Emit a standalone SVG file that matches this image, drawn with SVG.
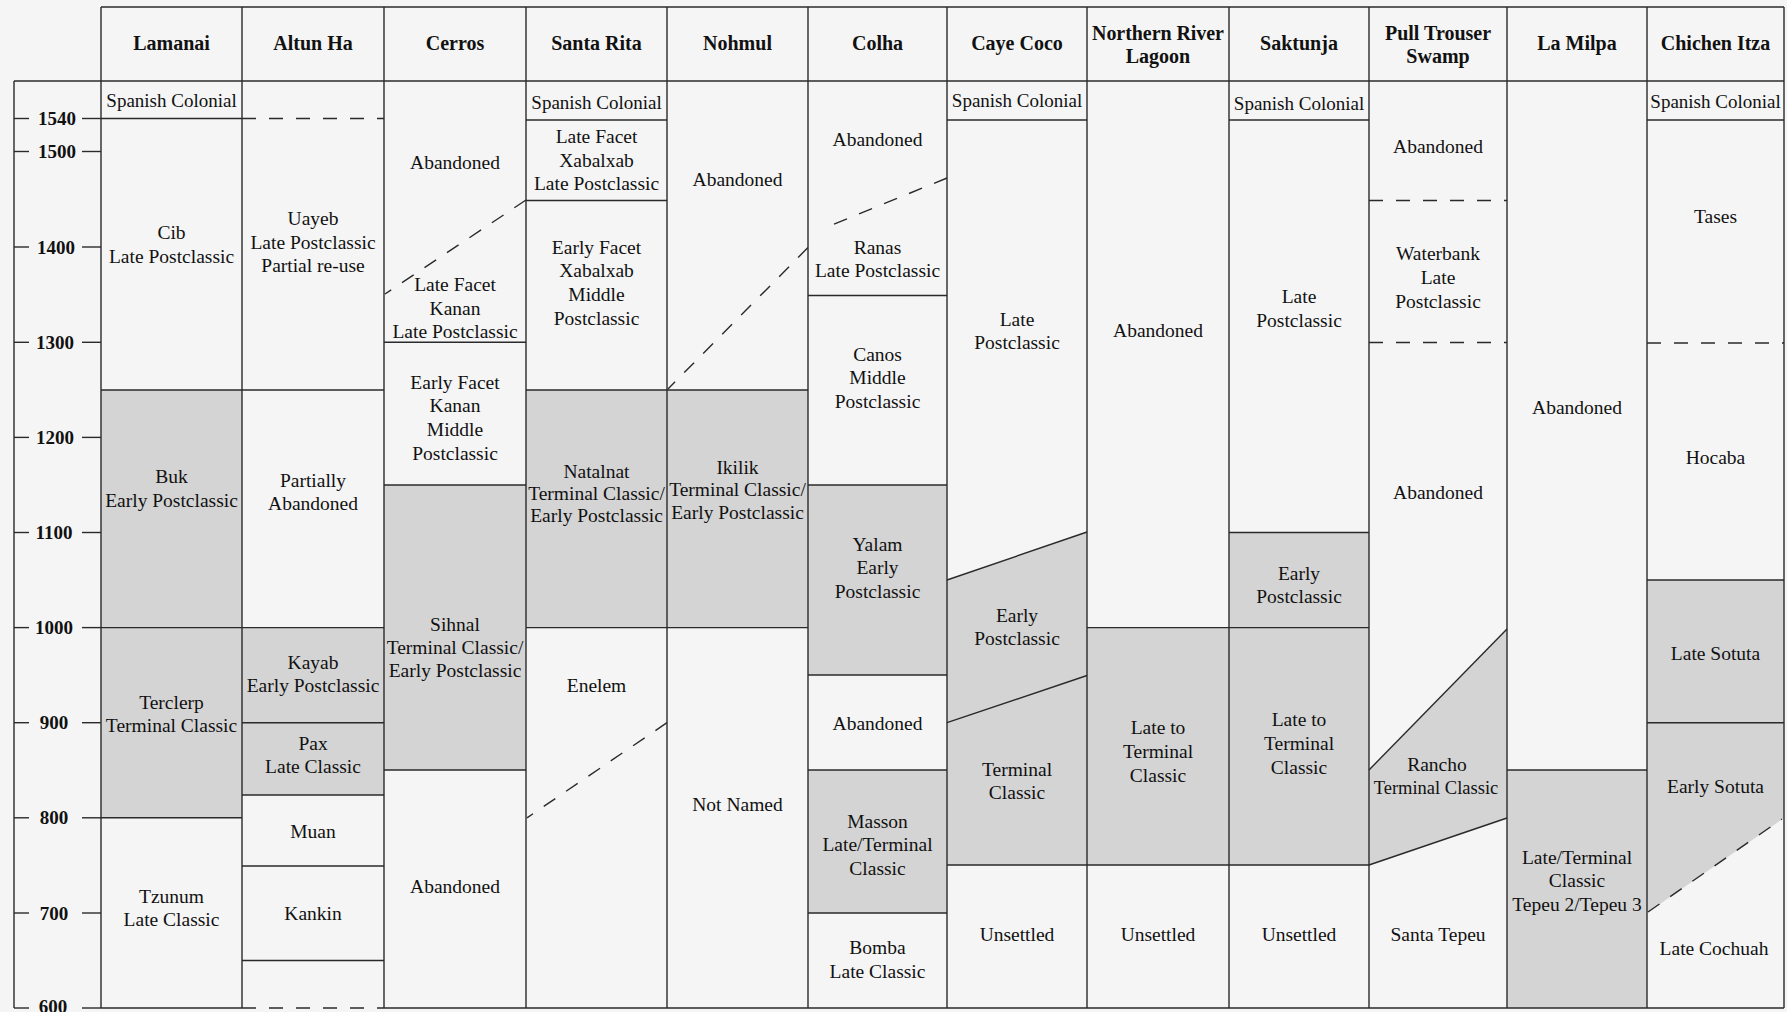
<svg xmlns="http://www.w3.org/2000/svg" width="1787" height="1012" viewBox="0 0 1787 1012">
<style>
text{font-family:"Liberation Serif","Times New Roman",serif;fill:#111;text-anchor:middle}
.h{font-size:20px;font-weight:bold}
.t{font-size:19.5px}
.sc{font-size:19px}
.sm{font-size:18.5px}
.ax{font-size:19px;font-weight:bold}
.g{fill:#d4d4d4}
.ln line,.ln polyline{stroke:#2a2a2a;stroke-width:1.4;fill:none}
.ln .d{stroke-dasharray:14 13}
</style>
<rect x="0" y="0" width="1787" height="1012" fill="#f5f5f5"/>

<g id="fills">
<rect class="g" x="101" y="390" width="141" height="428"/>
<rect class="g" x="242" y="627.6" width="142" height="167.4"/>
<rect class="g" x="384" y="485" width="142" height="285"/>
<rect class="g" x="526" y="390" width="141" height="237.6"/>
<rect class="g" x="667" y="390" width="141" height="237.6"/>
<rect class="g" x="808" y="485" width="139" height="190"/>
<rect class="g" x="808" y="770" width="139" height="143"/>
<polygon class="g" points="947,580 1087,532 1087,865 947,865"/>
<rect class="g" x="1087" y="627.6" width="142" height="237.4"/>
<rect class="g" x="1229" y="532.5" width="140" height="332.5"/>
<polygon class="g" points="1369,770 1507,629 1507,818 1369,865"/>
<rect class="g" x="1507" y="770" width="140" height="238"/>
<polygon class="g" points="1647,580 1784,580 1784,818 1647,913"/>
</g>

<g id="connectors" class="ln">
<line x1="101" y1="7" x2="1784" y2="7"/>
<line x1="14" y1="81" x2="1784" y2="81"/>
<line x1="14" y1="81" x2="14" y2="1008"/>
<line x1="101" y1="1008" x2="242" y2="1008"/>
<line class="d" x1="242" y1="1008" x2="384" y2="1008"/>
<line x1="384" y1="1008" x2="1784" y2="1008"/>
<line x1="101" y1="7" x2="101" y2="1008"/>
<line x1="242" y1="7" x2="242" y2="1008"/>
<line x1="384" y1="7" x2="384" y2="1008"/>
<line x1="526" y1="7" x2="526" y2="1008"/>
<line x1="667" y1="7" x2="667" y2="1008"/>
<line x1="808" y1="7" x2="808" y2="1008"/>
<line x1="947" y1="7" x2="947" y2="1008"/>
<line x1="1087" y1="7" x2="1087" y2="1008"/>
<line x1="1229" y1="7" x2="1229" y2="1008"/>
<line x1="1369" y1="7" x2="1369" y2="1008"/>
<line x1="1507" y1="7" x2="1507" y2="1008"/>
<line x1="1647" y1="7" x2="1647" y2="1008"/>
<line x1="1784" y1="7" x2="1784" y2="1008"/>
<line x1="14" y1="118.5" x2="29" y2="118.5"/><line x1="82" y1="118.5" x2="101" y2="118.5"/>
<line x1="14" y1="151.5" x2="29" y2="151.5"/><line x1="82" y1="151.5" x2="101" y2="151.5"/>
<line x1="14" y1="247" x2="29" y2="247"/><line x1="82" y1="247" x2="101" y2="247"/>
<line x1="14" y1="342.3" x2="29" y2="342.3"/><line x1="82" y1="342.3" x2="101" y2="342.3"/>
<line x1="14" y1="437.4" x2="29" y2="437.4"/><line x1="82" y1="437.4" x2="101" y2="437.4"/>
<line x1="14" y1="532.5" x2="29" y2="532.5"/><line x1="82" y1="532.5" x2="101" y2="532.5"/>
<line x1="14" y1="627.6" x2="29" y2="627.6"/><line x1="82" y1="627.6" x2="101" y2="627.6"/>
<line x1="14" y1="722.7" x2="29" y2="722.7"/><line x1="82" y1="722.7" x2="101" y2="722.7"/>
<line x1="14" y1="817.8" x2="29" y2="817.8"/><line x1="82" y1="817.8" x2="101" y2="817.8"/>
<line x1="14" y1="913" x2="29" y2="913"/><line x1="82" y1="913" x2="101" y2="913"/>
<line x1="14" y1="1008" x2="29" y2="1008"/><line x1="82" y1="1008" x2="101" y2="1008"/>
<line x1="101" y1="118.5" x2="242" y2="118.5"/>
<line x1="101" y1="390" x2="242" y2="390"/>
<line x1="101" y1="627.6" x2="242" y2="627.6"/>
<line x1="101" y1="817.8" x2="242" y2="817.8"/>
<line class="d" x1="242" y1="118.5" x2="384" y2="118.5"/>
<line x1="242" y1="390" x2="384" y2="390"/>
<line x1="242" y1="627.6" x2="384" y2="627.6"/>
<line x1="242" y1="722.7" x2="384" y2="722.7"/>
<line x1="242" y1="795" x2="384" y2="795"/>
<line x1="242" y1="866" x2="384" y2="866"/>
<line x1="242" y1="960.5" x2="384" y2="960.5"/>
<line class="d" x1="526" y1="200" x2="385" y2="294"/>
<line x1="384" y1="342.3" x2="526" y2="342.3"/>
<line x1="384" y1="485" x2="526" y2="485"/>
<line x1="384" y1="770" x2="526" y2="770"/>
<line x1="526" y1="120" x2="667" y2="120"/>
<line x1="526" y1="200.5" x2="667" y2="200.5"/>
<line x1="526" y1="390" x2="667" y2="390"/>
<line x1="526" y1="627.6" x2="667" y2="627.6"/>
<line class="d" x1="667" y1="722.7" x2="527" y2="817.8"/>
<line class="d" x1="808" y1="247.5" x2="668" y2="389"/>
<line x1="667" y1="390" x2="808" y2="390"/>
<line x1="667" y1="627.6" x2="808" y2="627.6"/>
<line class="d" x1="947" y1="178" x2="822" y2="229"/>
<line x1="808" y1="295.5" x2="947" y2="295.5"/>
<line x1="808" y1="485" x2="947" y2="485"/>
<line x1="808" y1="675" x2="947" y2="675"/>
<line x1="808" y1="770" x2="947" y2="770"/>
<line x1="808" y1="913" x2="947" y2="913"/>
<line x1="947" y1="120" x2="1087" y2="120"/>
<line x1="947" y1="580" x2="1087" y2="532"/>
<line x1="947" y1="722.7" x2="1087" y2="675.5"/>
<line x1="947" y1="865" x2="1369" y2="865"/>
<line x1="1087" y1="627.6" x2="1369" y2="627.6"/>
<line x1="1229" y1="120" x2="1369" y2="120"/>
<line x1="1229" y1="532.5" x2="1369" y2="532.5"/>
<line class="d" x1="1369" y1="200.5" x2="1507" y2="200.5"/>
<line class="d" x1="1369" y1="342.5" x2="1507" y2="342.5"/>
<line x1="1369" y1="770" x2="1507" y2="629"/>
<line x1="1369" y1="865" x2="1507" y2="818"/>
<line x1="1507" y1="770" x2="1647" y2="770"/>
<line x1="1647" y1="120" x2="1784" y2="120"/>
<line class="d" x1="1647" y1="343" x2="1784" y2="343"/>
<line x1="1647" y1="580" x2="1784" y2="580"/>
<line x1="1647" y1="722.7" x2="1784" y2="722.7"/>
<line class="d" x1="1648" y1="912" x2="1782" y2="819"/>
</g>

<g id="axis">
<text class="ax" x="57" y="125">1540</text>
<text class="ax" x="57" y="158">1500</text>
<text class="ax" x="56" y="253.5">1400</text>
<text class="ax" x="55" y="349">1300</text>
<text class="ax" x="55" y="444">1200</text>
<text class="ax" x="54" y="539">1100</text>
<text class="ax" x="54" y="634">1000</text>
<text class="ax" x="54" y="729">900</text>
<text class="ax" x="54" y="824">800</text>
<text class="ax" x="54" y="919.5">700</text>
<text class="ax" x="53" y="1013">600</text>
</g>

<g id="headers">
<g id="h-lamanai"><text class="h" x="171.5" y="50">Lamanai</text></g>
<g id="h-altunha"><text class="h" x="313" y="50">Altun Ha</text></g>
<g id="h-cerros"><text class="h" x="455" y="50">Cerros</text></g>
<g id="h-santarita"><text class="h" x="596.5" y="50">Santa Rita</text></g>
<g id="h-nohmul"><text class="h" x="737.5" y="50">Nohmul</text></g>
<g id="h-colha"><text class="h" x="877.5" y="50">Colha</text></g>
<g id="h-cayecoco"><text class="h" x="1017" y="50">Caye Coco</text></g>
<g id="h-nrl"><text class="h"><tspan x="1158" y="40" textLength="132">Northern River</tspan><tspan x="1158" y="63">Lagoon</tspan></text></g>
<g id="h-saktunja"><text class="h" x="1299" y="50">Saktunja</text></g>
<g id="h-pts"><text class="h"><tspan x="1438" y="40">Pull Trouser</tspan><tspan x="1438" y="63">Swamp</tspan></text></g>
<g id="h-lamilpa"><text class="h" x="1577" y="50">La Milpa</text></g>
<g id="h-chichen"><text class="h" x="1715.5" y="50">Chichen Itza</text></g>
</g>

<g id="lamanai">
<g id="lam-sc"><text class="sc" x="171.5" y="107">Spanish Colonial</text></g>
<g id="lam-cib"><text class="t"><tspan x="171.5" y="238.5">Cib</tspan><tspan x="171.5" y="262.5">Late Postclassic</tspan></text></g>
<g id="lam-buk"><text class="t"><tspan x="171.5" y="483">Buk</tspan><tspan x="171.5" y="506.5">Early Postclassic</tspan></text></g>
<g id="lam-terclerp"><text class="t"><tspan x="171.5" y="708.5">Terclerp</tspan><tspan x="171.5" y="732">Terminal Classic</tspan></text></g>
<g id="lam-tzunum"><text class="t"><tspan x="171.5" y="902.5">Tzunum</tspan><tspan x="171.5" y="926">Late Classic</tspan></text></g>
</g>

<g id="altunha">
<g id="alt-uayeb"><text class="t"><tspan x="313" y="224.5">Uayeb</tspan><tspan x="313" y="248.5">Late Postclassic</tspan><tspan x="313" y="272">Partial re-use</tspan></text></g>
<g id="alt-partial"><text class="t"><tspan x="313" y="486.5">Partially</tspan><tspan x="313" y="509.5">Abandoned</tspan></text></g>
<g id="alt-kayab"><text class="t"><tspan x="313" y="668.5">Kayab</tspan><tspan x="313" y="691.5">Early Postclassic</tspan></text></g>
<g id="alt-pax"><text class="t"><tspan x="313" y="749.5">Pax</tspan><tspan x="313" y="773">Late Classic</tspan></text></g>
<g id="alt-muan"><text class="t" x="313" y="837.5">Muan</text></g>
<g id="alt-kankin"><text class="t" x="313" y="919.5">Kankin</text></g>
</g>

<g id="cerros">
<g id="cer-aband1"><text class="t" x="455" y="169">Abandoned</text></g>
<g id="cer-latefacet"><text class="t"><tspan x="455" y="291">Late Facet</tspan><tspan x="455" y="314.5">Kanan</tspan><tspan x="455" y="338">Late Postclassic</tspan></text></g>
<g id="cer-earlyfacet"><text class="t"><tspan x="455" y="388.5">Early Facet</tspan><tspan x="455" y="412">Kanan</tspan><tspan x="455" y="436">Middle</tspan><tspan x="455" y="459.5">Postclassic</tspan></text></g>
<g id="cer-sihnal"><text class="t"><tspan x="455" y="630.5">Sihnal</tspan><tspan x="455" y="653.5">Terminal Classic/</tspan><tspan x="455" y="677">Early Postclassic</tspan></text></g>
<g id="cer-aband2"><text class="t" x="455" y="893">Abandoned</text></g>
</g>

<g id="santarita">
<g id="sr-sc"><text class="sc" x="596.5" y="109">Spanish Colonial</text></g>
<g id="sr-latefacet"><text class="t"><tspan x="596.5" y="142.5">Late Facet</tspan><tspan x="596.5" y="166.5">Xabalxab</tspan><tspan x="596.5" y="190">Late Postclassic</tspan></text></g>
<g id="sr-earlyfacet"><text class="t"><tspan x="596.5" y="253.5">Early Facet</tspan><tspan x="596.5" y="277">Xabalxab</tspan><tspan x="596.5" y="301">Middle</tspan><tspan x="596.5" y="324.5">Postclassic</tspan></text></g>
<g id="sr-natalnat"><text class="t"><tspan x="596.5" y="477.5">Natalnat</tspan><tspan x="596.5" y="499.5">Terminal Classic/</tspan><tspan x="596.5" y="521.5">Early Postclassic</tspan></text></g>
<g id="sr-enelem"><text class="t" x="596.5" y="692">Enelem</text></g>
</g>

<g id="nohmul">
<g id="noh-aband"><text class="t" x="737.5" y="185.5">Abandoned</text></g>
<g id="noh-ikilik"><text class="t"><tspan x="737.5" y="473.5">Ikilik</tspan><tspan x="737.5" y="496">Terminal Classic/</tspan><tspan x="737.5" y="518.5">Early Postclassic</tspan></text></g>
<g id="noh-notnamed"><text class="t" x="737.5" y="811">Not Named</text></g>
</g>

<g id="colha">
<g id="col-aband1"><text class="t" x="877.5" y="146">Abandoned</text></g>
<g id="col-ranas"><text class="t"><tspan x="877.5" y="253.5">Ranas</tspan><tspan x="877.5" y="277">Late Postclassic</tspan></text></g>
<g id="col-canos"><text class="t"><tspan x="877.5" y="360.5">Canos</tspan><tspan x="877.5" y="383.5">Middle</tspan><tspan x="877.5" y="407.5">Postclassic</tspan></text></g>
<g id="col-yalam"><text class="t"><tspan x="877.5" y="550.5">Yalam</tspan><tspan x="877.5" y="574">Early</tspan><tspan x="877.5" y="598">Postclassic</tspan></text></g>
<g id="col-aband2"><text class="t" x="877.5" y="730">Abandoned</text></g>
<g id="col-masson"><text class="t"><tspan x="877.5" y="827.5">Masson</tspan><tspan x="877.5" y="851">Late/Terminal</tspan><tspan x="877.5" y="874.5">Classic</tspan></text></g>
<g id="col-bomba"><text class="t"><tspan x="877.5" y="954">Bomba</tspan><tspan x="877.5" y="978">Late Classic</tspan></text></g>
</g>

<g id="cayecoco">
<g id="cc-sc"><text class="sc" x="1017" y="107">Spanish Colonial</text></g>
<g id="cc-late"><text class="t"><tspan x="1017" y="325.5">Late</tspan><tspan x="1017" y="349">Postclassic</tspan></text></g>
<g id="cc-early"><text class="t"><tspan x="1017" y="621.5">Early</tspan><tspan x="1017" y="645">Postclassic</tspan></text></g>
<g id="cc-terminal"><text class="t"><tspan x="1017" y="775.5">Terminal</tspan><tspan x="1017" y="799">Classic</tspan></text></g>
<g id="cc-unsettled"><text class="t" x="1017" y="940.5">Unsettled</text></g>
</g>

<g id="nrl">
<g id="nrl-aband"><text class="t" x="1158" y="336.5">Abandoned</text></g>
<g id="nrl-late"><text class="t"><tspan x="1158" y="734">Late to</tspan><tspan x="1158" y="757.5">Terminal</tspan><tspan x="1158" y="781.5">Classic</tspan></text></g>
<g id="nrl-unsettled"><text class="t" x="1158" y="940.5">Unsettled</text></g>
</g>

<g id="saktunja">
<g id="sak-sc"><text class="sc" x="1299" y="109.5">Spanish Colonial</text></g>
<g id="sak-late"><text class="t"><tspan x="1299" y="302.5">Late</tspan><tspan x="1299" y="326.5">Postclassic</tspan></text></g>
<g id="sak-early"><text class="t"><tspan x="1299" y="579.5">Early</tspan><tspan x="1299" y="603">Postclassic</tspan></text></g>
<g id="sak-lateto"><text class="t"><tspan x="1299" y="725.5">Late to</tspan><tspan x="1299" y="749.5">Terminal</tspan><tspan x="1299" y="773.5">Classic</tspan></text></g>
<g id="sak-unsettled"><text class="t" x="1299" y="940.5">Unsettled</text></g>
</g>

<g id="pts">
<g id="pts-aband1"><text class="t" x="1438" y="153">Abandoned</text></g>
<g id="pts-waterbank"><text class="t"><tspan x="1438" y="259.5">Waterbank</tspan><tspan x="1438" y="283.5">Late</tspan><tspan x="1438" y="307.5">Postclassic</tspan></text></g>
<g id="pts-aband2"><text class="t" x="1438" y="499">Abandoned</text></g>
<g id="pts-rancho"><text class="t"><tspan x="1437" y="770.5">Rancho</tspan><tspan class="sm" x="1436" y="793.5">Terminal Classic</tspan></text></g>
<g id="pts-santatepeu"><text class="t" x="1438" y="941">Santa Tepeu</text></g>
</g>

<g id="lamilpa">
<g id="lm-aband"><text class="t" x="1577" y="413.5">Abandoned</text></g>
<g id="lm-late"><text class="t"><tspan x="1577" y="863.5">Late/Terminal</tspan><tspan x="1577" y="887">Classic</tspan><tspan x="1577" y="910.5">Tepeu 2/Tepeu 3</tspan></text></g>
</g>

<g id="chichen">
<g id="ci-sc"><text class="sc" x="1715.5" y="107.5">Spanish Colonial</text></g>
<g id="ci-tases"><text class="t" x="1715.5" y="222.5">Tases</text></g>
<g id="ci-hocaba"><text class="t" x="1715.5" y="463.5">Hocaba</text></g>
<g id="ci-latesotuta"><text class="t" x="1715.5" y="659.5">Late Sotuta</text></g>
<g id="ci-earlysotuta"><text class="t" x="1715.5" y="792.5">Early Sotuta</text></g>
<g id="ci-latecochuah"><text class="t" x="1714" y="954.5">Late Cochuah</text></g>
</g>
</svg>
